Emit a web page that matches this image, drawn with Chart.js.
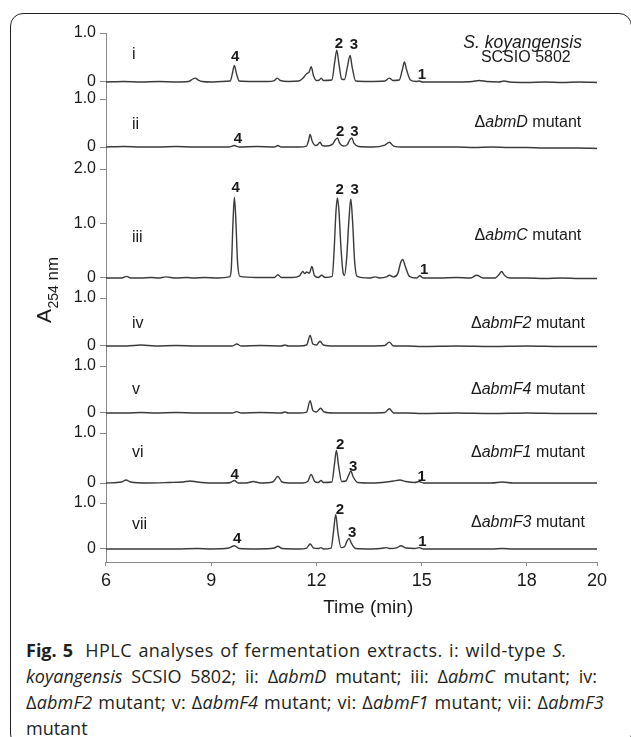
<!DOCTYPE html>
<html>
<head>
<meta charset="utf-8">
<script src="https://cdn.jsdelivr.net/npm/chart.js@4.4.1/dist/chart.umd.min.js"></script>
<style>
  html, body { margin: 0; padding: 0; background: #fff; }
  body { width: 631px; height: 737px; overflow: hidden; position: relative; }
  .frame { position: absolute; left: 10px; top: 13px; width: 622px; height: 734px; border: 1.5px solid #222; border-radius: 13px; box-sizing: border-box; }
  .plot { position: absolute; left: 0; top: 0; width: 631px; height: 620px; }
  .caption { position: absolute; left: 26px; top: 637px; font-family: 'Open Sans', Lato, sans-serif; font-size: 18px; line-height: 26px; color: #231f20; white-space: nowrap; }
  .caption div { text-align: justify; text-align-last: justify; }
  .caption .l1 { width: 541px; letter-spacing: 0.45px; }
  .caption .l2 { width: 571px; }
  .caption .l3 { width: 578px; letter-spacing: 0.2px; }
  .caption .l4 { text-align: left; text-align-last: left; }
  .caption b { font-weight: 700; margin-right: 6px; letter-spacing: 0; }
</style>
</head>
<body>
<div class="frame"></div>
<div class="plot"><canvas id="hplcChart" width="631" height="620"></canvas></div>
<div class="caption">
  <div class="l1"><b>Fig. 5</b> HPLC analyses of fermentation extracts. i: wild-type <i>S.</i></div>
  <div class="l2"><i>koyangensis</i> SCSIO 5802; ii: Δ<i>abmD</i> mutant; iii: Δ<i>abmC</i> mutant; iv:</div>
  <div class="l3">Δ<i>abmF2</i> mutant; v: Δ<i>abmF4</i> mutant; vi: Δ<i>abmF1</i> mutant; vii: Δ<i>abmF3</i></div>
  <div class="l4">mutant</div>
</div>
<script>
document.addEventListener('DOMContentLoaded', function () {
  const FONT = "'Liberation Sans', Arial, sans-serif";
  const INK = '#1a1a1a';
  const AXIS = '#8a8a8a';
  const TRACE = '#3a3a3a';

  // x axis (min)
  const timeTicks = [6, 9, 12, 15, 18, 20];

  // i: wild type
  const timeI = [6.0, 6.5, 7.0, 7.5, 8.0, 8.35, 8.45, 8.54, 8.63, 8.75, 9.0, 9.3, 9.54, 9.6, 9.66, 9.72, 9.8,
    10.2, 10.6, 10.8, 10.89, 10.97, 11.2, 11.5, 11.62, 11.72, 11.79, 11.85, 11.92, 12.0, 12.08, 12.14, 12.2,
    12.44, 12.52, 12.58, 12.64, 12.72, 12.8, 12.88, 12.96, 13.02, 13.12, 13.5, 13.95, 14.08, 14.18, 14.36,
    14.45, 14.51, 14.57, 14.68, 14.85, 14.93, 15.02, 15.5, 16.0, 16.45, 16.64, 16.85, 17.2, 17.35, 17.5,
    18.0, 18.5, 19.0, 19.5, 20.0];
  const absI = [0.0, 0.01, 0.0, 0.01, 0.0, 0.01, 0.05, 0.08, 0.04, 0.01, 0.0, 0.01, 0.02, 0.16, 0.34, 0.17, 0.02,
    0.01, 0.01, 0.03, 0.08, 0.03, 0.01, 0.02, 0.08, 0.17, 0.2, 0.31, 0.12, 0.03, 0.04, 0.08, 0.03,
    0.04, 0.4, 0.65, 0.38, 0.06, 0.05, 0.3, 0.54, 0.3, 0.02, 0.01, 0.02, 0.08, 0.03, 0.04,
    0.25, 0.41, 0.25, 0.04, 0.01, 0.02, 0.0, 0.0, 0.0, 0.01, 0.03, 0.01, 0.0, 0.02, 0.0,
    -0.01, 0.0, -0.01, 0.0, -0.01];

  // ii: abmD
  const timeII = [6.0, 6.5, 7.0, 7.5, 8.0, 8.5, 9.0, 9.5, 9.66, 9.8, 10.3, 10.8, 10.9, 11.0, 11.5, 11.72,
    11.77, 11.82, 11.88, 11.98, 12.04, 12.1, 12.17, 12.3, 12.46, 12.54, 12.6, 12.66, 12.78, 12.88, 12.95,
    13.01, 13.07, 13.2, 13.6, 13.95, 14.08, 14.2, 14.5, 15.0, 15.5, 16.0, 16.5, 17.0, 17.5, 18.0, 18.5,
    19.0, 19.5, 20.0];
  const absII = [0.0, 0.01, 0.0, 0.0, 0.01, 0.0, 0.0, 0.0, 0.03, 0.0, 0.01, 0.0, 0.03, 0.0, 0.0, 0.02,
    0.12, 0.26, 0.12, 0.03, 0.05, 0.1, 0.03, 0.02, 0.06, 0.15, 0.19, 0.08, 0.02, 0.05, 0.15,
    0.19, 0.08, 0.01, 0.0, 0.04, 0.1, 0.02, 0.0, 0.0, 0.0, 0.0, -0.01, 0.0, -0.01, -0.01, -0.02,
    -0.02, -0.02, -0.03];

  // iii: abmC
  const timeIII = [6.0, 6.45, 6.59, 6.7, 7.0, 7.3, 7.5, 7.7, 8.0, 8.3, 8.5, 8.8, 9.2, 9.52, 9.57, 9.62, 9.66,
    9.7, 9.75, 9.82, 10.3, 10.8, 10.9, 11.0, 11.3, 11.52, 11.61, 11.67, 11.72, 11.8, 11.87, 11.94, 12.05,
    12.15, 12.25, 12.45, 12.5, 12.56, 12.6, 12.64, 12.7, 12.76, 12.8, 12.86, 12.93, 12.98, 13.03, 13.09,
    13.16, 13.5, 13.68, 13.8, 14.0, 14.08, 14.2, 14.32, 14.4, 14.46, 14.53, 14.65, 14.85, 14.95, 15.05,
    15.5, 16.0, 16.4, 16.57, 16.75, 17.1, 17.2, 17.28, 17.36, 17.5, 18.0, 18.5, 19.0, 19.5, 20.0];
  const absIII = [0.0, 0.0, 0.03, 0.0, 0.0, 0.01, 0.0, 0.02, 0.0, 0.01, 0.0, 0.01, 0.0, 0.02, 0.15, 1.0, 1.48,
    1.1, 0.3, 0.03, 0.01, 0.01, 0.06, 0.01, 0.01, 0.04, 0.12, 0.08, 0.11, 0.09, 0.21, 0.05, 0.01,
    0.05, 0.01, 0.03, 0.45, 1.25, 1.47, 1.25, 0.55, 0.1, 0.05, 0.35, 1.1, 1.45, 1.05, 0.3,
    0.03, 0.0, 0.02, 0.0, 0.02, 0.05, 0.02, 0.08, 0.28, 0.34, 0.22, 0.03, 0.0, 0.04, 0.0,
    0.0, 0.01, 0.0, 0.05, 0.0, 0.0, 0.06, 0.12, 0.05, 0.0, 0.0, -0.01, 0.0, -0.01, -0.01];

  // iv: abmF2
  const timeIV = [6.0, 6.6, 7.0, 7.4, 8.0, 8.6, 9.0, 9.6, 9.73, 9.85, 10.4, 11.0, 11.1, 11.2, 11.5, 11.72,
    11.82, 11.9, 12.0, 12.1, 12.2, 12.5, 13.0, 13.5, 13.95, 14.08, 14.2, 14.6, 15.0, 16.0, 17.0, 18.0,
    19.0, 20.0];
  const absIV = [0.0, 0.0, 0.02, 0.0, 0.01, 0.0, 0.0, 0.0, 0.04, 0.0, 0.01, 0.0, 0.02, 0.0, 0.0, 0.02,
    0.22, 0.04, 0.02, 0.1, 0.02, 0.0, 0.0, 0.0, 0.01, 0.08, 0.0, 0.0, -0.01, 0.0, -0.01, 0.0,
    -0.01, -0.01];

  // v: abmF4
  const timeV = [6.0, 6.6, 7.0, 7.4, 8.0, 8.6, 9.0, 9.6, 9.73, 9.85, 10.4, 11.0, 11.1, 11.2, 11.5, 11.72,
    11.82, 11.9, 12.0, 12.12, 12.22, 12.5, 13.0, 13.5, 13.95, 14.08, 14.2, 14.6, 15.0, 16.0, 17.0, 18.0,
    19.0, 20.0];
  const absV = [0.0, 0.0, 0.01, 0.0, 0.01, 0.0, 0.0, 0.0, 0.03, 0.0, 0.01, 0.0, 0.02, 0.0, 0.0, 0.02,
    0.26, 0.05, 0.02, 0.1, 0.02, 0.0, 0.0, 0.0, 0.01, 0.09, 0.0, 0.0, -0.01, 0.0, -0.01, 0.0,
    -0.01, -0.01];

  // vi: abmF1
  const timeVI = [6.0, 6.45, 6.57, 6.7, 7.2, 7.8, 8.2, 8.4, 8.6, 9.0, 9.4, 9.55, 9.66, 9.77, 10.0, 10.2,
    10.4, 10.75, 10.9, 11.02, 11.3, 11.6, 11.75, 11.85, 11.95, 12.05, 12.13, 12.2, 12.44, 12.51, 12.57,
    12.63, 12.72, 12.84, 12.92, 12.98, 13.05, 13.18, 13.6, 14.0, 14.2, 14.38, 14.55, 14.8, 14.93, 15.05,
    15.5, 16.0, 16.5, 17.0, 17.3, 17.6, 18.0, 19.0, 20.0];
  const absVI = [0.0, 0.02, 0.06, 0.02, 0.0, 0.01, 0.02, 0.04, 0.02, 0.0, 0.0, 0.01, 0.05, 0.0, 0.0, 0.03,
    0.0, 0.02, 0.13, 0.02, 0.0, 0.0, 0.03, 0.17, 0.03, 0.01, 0.05, 0.01, 0.02, 0.35, 0.65,
    0.35, 0.03, 0.04, 0.16, 0.24, 0.12, 0.01, 0.0, 0.02, 0.04, 0.06, 0.03, 0.01, 0.03, 0.0,
    0.0, 0.0, 0.0, 0.0, 0.02, 0.0, 0.0, 0.0, 0.0];

  // vii: abmF3
  const timeVII = [6.0, 7.0, 8.0, 8.6, 9.0, 9.5, 9.66, 9.8, 10.3, 10.8, 10.9, 11.02, 11.5, 11.72, 11.82,
    11.92, 12.05, 12.13, 12.2, 12.42, 12.49, 12.55, 12.61, 12.7, 12.8, 12.87, 12.93, 13.0, 13.12, 13.6,
    13.92, 14.0, 14.1, 14.3, 14.41, 14.55, 14.8, 14.93, 15.05, 16.0, 17.0, 17.3, 17.6, 18.0, 19.0, 20.0];
  const absVII = [0.0, 0.0, 0.0, 0.01, 0.0, 0.02, 0.07, 0.01, 0.0, 0.02, 0.06, 0.01, 0.0, 0.02, 0.11,
    0.02, 0.01, 0.03, 0.0, 0.02, 0.4, 0.75, 0.38, 0.03, 0.05, 0.17, 0.23, 0.12, 0.01, 0.0,
    0.02, 0.03, 0.01, 0.03, 0.07, 0.02, 0.01, 0.03, 0.0, 0.0, 0.0, 0.01, 0.0, 0.0, 0.0, 0.0];

  const traceTimes = [timeI, timeII, timeIII, timeIV, timeV, timeVI, timeVII];
  const traceAbs = [absI, absII, absIII, absIV, absV, absVI, absVII];
  const panelNames = ['i', 'ii', 'iii', 'iv', 'v', 'vi', 'vii'];

  // y axis of each panel
  const panelMax = [1, 1, 2, 1, 1, 1, 1];
  const panelMin = [-0.347, -0.458, -0.367, -0.417, -0.426, -0.4, -0.283];
  const panelTicks = [[0, 1], [0, 1], [0, 1, 2], [0, 1], [0, 1], [0, 1], [0, 1]];
  const panelWeight = [66, 70, 129, 68, 67, 70, 59];

  // compound numbers over the peaks
  const peakNames = [['4', '2', '3', '1'], ['4', '2', '3'], ['4', '2', '3', '1'], [], [], ['4', '2', '3', '1'], ['4', '2', '3', '1']];
  const peakTime = [[9.68, 12.64, 13.07, 15.01], [9.76, 12.68, 13.08], [9.7, 12.66, 13.09, 15.07], [], [],
    [9.67, 12.68, 13.05, 15.0], [9.74, 12.67, 13.02, 15.02]];
  const peakAbs = [[0.52, 0.78, 0.755, 0.14], [0.17, 0.31, 0.31], [1.65, 1.61, 1.61, 0.15], [], [],
    [0.17, 0.76, 0.33, 0.13], [0.22, 0.86, 0.35, 0.16]];

  // strain labels, [text, italic]
  const strainLines = [
    [[['S. koyangensis', true]], [['SCSIO 5802', false]]],
    [[['Δ', false], ['abmD', true], [' mutant', false]]],
    [[['Δ', false], ['abmC', true], [' mutant', false]]],
    [[['Δ', false], ['abmF2', true], [' mutant', false]]],
    [[['Δ', false], ['abmF4', true], [' mutant', false]]],
    [[['Δ', false], ['abmF1', true], [' mutant', false]]],
    [[['Δ', false], ['abmF3', true], [' mutant', false]]]
  ];
  const strainSize = [[17.5, 16], [16], [16], [16], [16], [16], [16]];
  const strainAbs = [[0.79, 0.49], [0.5], [0.77], [0.46], [0.49], [0.6], [0.57]];
  const strainTime = [[17.88, 17.97], [18.03], [18.03], [18.03], [18.03], [18.03], [18.03]];
  const nameAbs = [0.55, 0.46, 0.75, 0.46, 0.49, 0.61, 0.54];

  function axisId(i) {
    return 'y' + i;
  }

  function drawRich(ctx, parts, cx, cy, size) {
    let total = 0;
    const widths = parts.map(function (p) {
      ctx.font = (p[1] ? 'italic ' : '') + size + 'px ' + FONT;
      const w = ctx.measureText(p[0]).width;
      total += w;
      return w;
    });
    let x = cx - total / 2;
    parts.forEach(function (p, k) {
      ctx.font = (p[1] ? 'italic ' : '') + size + 'px ' + FONT;
      ctx.fillText(p[0], x, cy);
      x += widths[k];
    });
  }

  const labelPlugin = {
    id: 'hplcLabels',
    afterDraw: function (chart) {
      const ctx = chart.ctx;
      const xs = chart.scales.x;
      ctx.save();
      ctx.fillStyle = INK;
      ctx.textBaseline = 'middle';

      panelNames.forEach(function (name, i) {
        const ys = chart.scales[axisId(i)];

        ctx.textAlign = 'left';
        ctx.font = '16px ' + FONT;
        ctx.fillText(name, xs.getPixelForValue(6.74), ys.getPixelForValue(nameAbs[i]));

        strainLines[i].forEach(function (line, k) {
          drawRich(ctx, line, xs.getPixelForValue(strainTime[i][k]), ys.getPixelForValue(strainAbs[i][k]), strainSize[i][k]);
        });

        ctx.textAlign = 'center';
        ctx.font = 'bold 15px ' + FONT;
        peakNames[i].forEach(function (label, k) {
          ctx.fillText(label, xs.getPixelForValue(peakTime[i][k]), ys.getPixelForValue(peakAbs[i][k]));
        });
      });

      // x title
      const area = chart.chartArea;
      ctx.textAlign = 'center';
      ctx.font = '19px ' + FONT;
      ctx.fillText('Time (min)', area.left + (area.right - area.left) * 0.534, area.bottom + 46);

      // y title A254 nm, rotated
      ctx.translate(50.5, 323);
      ctx.rotate(-Math.PI / 2);
      ctx.textAlign = 'left';
      ctx.textBaseline = 'alphabetic';
      ctx.font = '21px ' + FONT;
      ctx.fillText('A', 0, 0);
      let off = ctx.measureText('A').width + 0.5;
      ctx.font = '14px ' + FONT;
      ctx.fillText('254', off, 7.5);
      off += ctx.measureText('254').width;
      ctx.font = '17px ' + FONT;
      ctx.fillText(' nm', off, 7.5);
      ctx.restore();
    }
  };

  const scales = {
    x: {
      type: 'linear',
      position: 'bottom',
      min: 6,
      max: 20,
      afterBuildTicks: function (s) { s.ticks = timeTicks.map(function (v) { return { value: v }; }); },
      afterFit: function (s) { s.height = 58; },
      grid: { drawOnChartArea: false, drawTicks: true, tickLength: 4, color: AXIS },
      border: { color: AXIS, width: 1 },
      ticks: { font: { family: FONT, size: 18 }, color: INK, padding: 4, maxRotation: 0, autoSkip: false,
        callback: function (v) { return String(v); } }
    }
  };

  panelNames.forEach(function (name, i) {
    scales[axisId(i)] = {
      type: 'linear',
      position: 'left',
      stack: 'traces',
      stackWeight: panelWeight[i],
      weight: panelNames.length - i,
      min: panelMin[i],
      max: panelMax[i],
      afterBuildTicks: function (s) { s.ticks = panelTicks[i].map(function (v) { return { value: v }; }); },
      afterFit: function (s) { s.width = 106; },
      grid: { drawOnChartArea: false, drawTicks: true, tickLength: 6, color: AXIS },
      border: { color: AXIS, width: 1 },
      ticks: { font: { family: FONT, size: 16 }, color: INK, padding: 4, autoSkip: false,
        callback: function (v) { return v === 0 ? '0' : v.toFixed(1); } }
    };
  });

  const datasets = traceTimes.map(function (times, i) {
    return {
      label: panelNames[i],
      yAxisID: axisId(i),
      data: times.map(function (t, k) { return { x: t, y: traceAbs[i][k] }; }),
      borderColor: TRACE,
      borderWidth: 1.4,
      pointRadius: 0,
      fill: false,
      cubicInterpolationMode: 'monotone'
    };
  });

  new Chart(document.getElementById('hplcChart'), {
    type: 'line',
    data: { datasets: datasets },
    options: {
      responsive: false,
      animation: false,
      events: [],
      layout: { padding: { top: 33, left: 0, right: 34, bottom: 0 } },
      plugins: { legend: { display: false }, tooltip: { enabled: false } },
      scales: scales
    },
    plugins: [labelPlugin]
  });
});
</script>
</body>
</html>
